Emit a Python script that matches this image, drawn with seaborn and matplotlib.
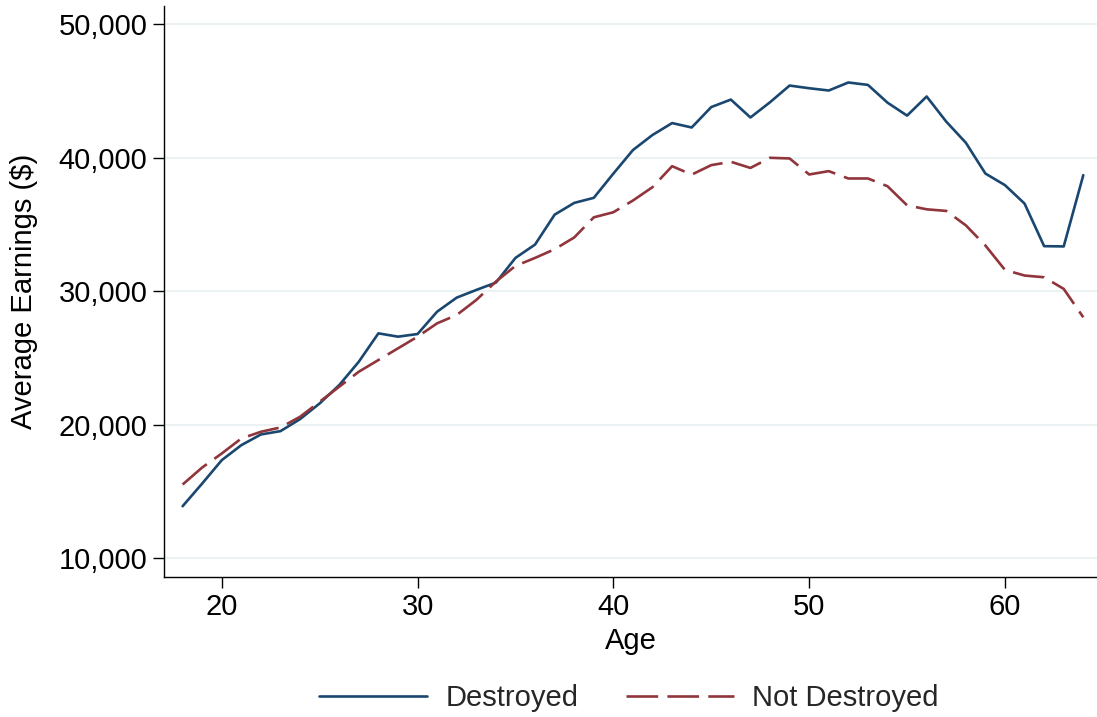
import numpy as np
import pandas as pd
import matplotlib
matplotlib.use("Agg")
import matplotlib.pyplot as plt
import matplotlib.ticker as mticker
import seaborn as sns

ages = list(range(18, 65))
destroyed = [13900, 15600, 17350, 18475, 19275, 19525, 20425, 21600, 22975, 24725,
             26850, 26600, 26800, 28475, 29525, 30100, 30650, 32500, 33500, 35740,
             36620, 37000, 38815, 40580, 41710, 42600, 42270, 43800, 44360, 43020,
             44160, 45410, 45210, 45040, 45640, 45460, 44130, 43160, 44590, 42710,
             41130, 38820, 37950, 36570, 33380, 33360, 38700]
not_destroyed = [15525, 16800, 17850, 18975, 19475, 19800, 20600, 21725, 22850, 23975,
                 24850, 25725, 26600, 27600, 28225, 29350, 30725, 31900, 32500, 33150,
                 34030, 35540, 35920, 36800, 37800, 39370, 38740, 39450, 39700, 39240,
                 40000, 39950, 38750, 39000, 38450, 38450, 37870, 36440, 36140, 36020,
                 34940, 33430, 31600, 31180, 31050, 30180, 28050]
series_names = ["Destroyed", "Not Destroyed"]
y_ticks = [10000, 20000, 30000, 40000, 50000]
x_ticks = [20, 30, 40, 50, 60]

df = pd.DataFrame({
    "Age": ages * 2,
    "Earnings": destroyed + not_destroyed,
    "Group": [series_names[0]] * len(ages) + [series_names[1]] * len(ages),
})

sns.set_style("white")
plt.rcParams["font.family"] = ["Liberation Sans", "DejaVu Sans"]

FS = 21

fig = plt.figure(figsize=(10.97, 7.17), dpi=100)
ax = fig.add_axes([164 / 1097, (717 - 576.7) / 717, (1097 - 164) / 1097, (576.7 - 6) / 717])

palette = {"Destroyed": "#1A476F", "Not Destroyed": "#90353B"}
dashes = {"Destroyed": "", "Not Destroyed": (12, 3.5)}
sns.lineplot(data=df, x="Age", y="Earnings", hue="Group", style="Group",
             hue_order=series_names, style_order=series_names,
             palette=palette, dashes=dashes, linewidth=1.9, ax=ax)

ax.set_xlim(17.05, 64.7)
ax.set_ylim(8620, 51370)
ax.set_xticks(x_ticks)
ax.set_yticks(y_ticks)
ax.yaxis.set_major_formatter(mticker.FuncFormatter(lambda v, p: f"{int(v):,}"))

ax.grid(False)
for t in y_ticks:
    ax.axhline(t, color="#EAF2F3", lw=1.5, zorder=0)

for s in ["top", "right"]:
    ax.spines[s].set_visible(False)
for s in ["left", "bottom"]:
    ax.spines[s].set_color("black")
    ax.spines[s].set_linewidth(1.0)

ax.tick_params(axis="both", which="major", direction="out", length=8, width=1.0,
               color="black", labelsize=FS, pad=4, labelcolor="black")
ax.tick_params(axis="both", bottom=True, left=True)

ax.set_xlabel("Age", fontsize=FS, labelpad=4, color="black")
ax.set_ylabel("Average Earnings ($)", fontsize=FS, color="black")
ax.yaxis.set_label_coords(-0.135, 0.5)

handles, labels = ax.get_legend_handles_labels()
ax.get_legend().remove()
fig.legend(handles, labels, loc="center", bbox_to_anchor=(629 / 1097, 1 - 698 / 717),
           ncol=2, frameon=False, fontsize=FS, handlelength=3.7,
           handletextpad=0.65, columnspacing=1.6)

fig.savefig("out.png", dpi=100, facecolor="white")
